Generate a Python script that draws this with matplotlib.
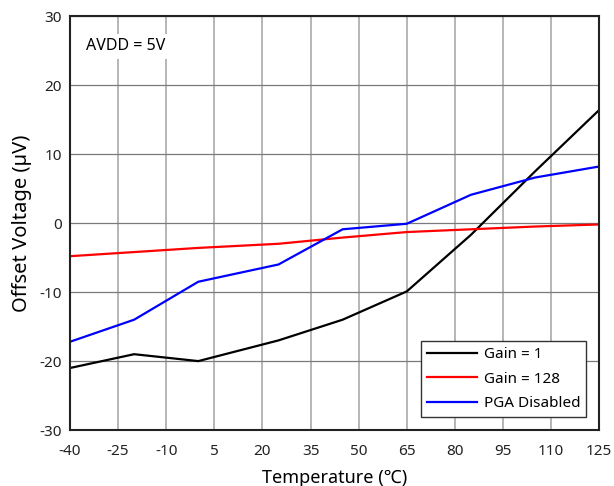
import matplotlib
matplotlib.use('Agg')
import matplotlib.pyplot as plt
from matplotlib.ticker import FuncFormatter

plt.rcParams['font.family'] = ['Noto Sans', 'DejaVu Sans']
plt.rcParams['axes.unicode_minus'] = False

# температура, °C
temp = [-40, -20, 0, 25, 45, 65, 85, 105, 125]
# смещение, мкВ
gain_1 = [-21.0, -19.0, -20.0, -17.0, -14.0, -9.9, -1.7, 7.5, 16.4]
gain_128 = [-4.8, -4.2, -3.6, -3.0, -2.1, -1.3, -0.9, -0.5, -0.2]
pga_off = [-17.2, -14.0, -8.5, -6.0, -0.9, -0.1, 4.1, 6.6, 8.2]

x_ticks = [-40, -25, -10, 5, 20, 35, 50, 65, 80, 95, 110, 125]
y_ticks = [-30, -20, -10, 0, 10, 20, 30]


def main():
    fig = plt.figure(figsize=(6.14, 4.86), dpi=100)
    ax = fig.add_axes([0.114, 0.115, 0.862, 0.852])

    ax.plot(temp, gain_1, color='black', lw=1.6, label='Gain = 1')
    ax.plot(temp, gain_128, color='red', lw=1.6, label='Gain = 128')
    ax.plot(temp, pga_off, color='blue', lw=1.6, label='PGA Disabled')

    ax.set_xlim(-40, 125)
    ax.set_ylim(-30, 30)
    ax.set_xticks(x_ticks)
    ax.set_yticks(y_ticks)
    # обычный дефис вместо длинного минуса
    fmt = FuncFormatter(lambda v, p: '%d' % v)
    ax.xaxis.set_major_formatter(fmt)
    ax.yaxis.set_major_formatter(fmt)
    ax.tick_params(length=0, labelsize=11, colors='#222222')
    ax.tick_params(axis='x', pad=10)
    ax.tick_params(axis='y', pad=6)

    # вертикальная сетка светлее горизонтальной
    ax.xaxis.grid(True, color='#b0b0b0', lw=1.3)
    ax.yaxis.grid(True, color='#7a7a7a', lw=0.9)
    ax.set_axisbelow(True)
    for s in ax.spines.values():
        s.set_linewidth(1.5)
        s.set_color('#222222')

    ax.set_xlabel('Temperature (℃)', fontsize=13, labelpad=7)
    ax.set_ylabel('Offset Voltage (µV)', fontsize=14.5, labelpad=5)

    ax.text(-35, 25.6, 'AVDD = 5V', fontsize=11.5, va='center', ha='left',
            bbox=dict(facecolor='white', edgecolor='none', pad=3))

    leg = ax.legend(loc='lower right', fontsize=11, fancybox=False,
                    framealpha=1, edgecolor='#333333', handlelength=3.3,
                    handletextpad=0.4, borderaxespad=0.85, labelspacing=0.62)
    leg.get_frame().set_linewidth(1.0)

    fig.savefig('out.png', dpi=100)


if __name__ == '__main__':
    main()
